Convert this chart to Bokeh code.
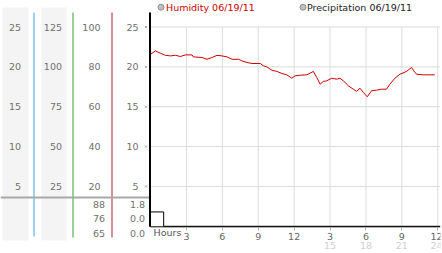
from bokeh.plotting import figure
from bokeh.models import Range1d, LinearAxis, FixedTicker
from bokeh.core.properties import value
from bokeh.embed import file_html
from bokeh.resources import INLINE

# ---------------- data ----------------
hum_hours = [0.0, 0.42, 0.83, 1.25, 1.67, 2.08, 2.5, 2.92, 3.47, 3.58, 4.31, 4.72, 5.14, 5.56,
             5.97, 6.39, 6.81, 7.36, 7.64, 8.06, 8.47, 9.17, 9.44, 9.72, 10.14, 10.56, 10.97,
             11.39, 11.81, 12.08, 12.5, 13.06, 13.61, 13.89, 14.17, 14.44, 14.72, 15.14, 15.56,
             15.83, 16.11, 16.53, 16.94, 17.22, 17.5, 17.78, 18.11, 18.47, 18.89, 19.31, 19.72,
             20.0, 20.42, 20.83, 21.39, 21.81, 22.0, 22.22, 22.78, 23.33, 23.75]
hum_vals = [86.3, 88, 86.8, 85.8, 85.5, 85.8, 85.2, 86, 86, 85, 84.7, 83.8, 84.7, 85.8, 85.5,
            85, 83.8, 83.8, 83, 82.2, 81.7, 81.7, 80.5, 80, 78.3, 77.7, 76.7, 76, 74.3, 75.5,
            75.8, 76, 77.7, 74.7, 71.3, 72.7, 73, 74.3, 73.8, 74.3, 73, 70.5, 68.8, 67.7, 69.3,
            67.2, 65, 68, 68.3, 68.8, 68.8, 71.3, 74.3, 76.3, 77.7, 79.7, 78, 76.3, 76, 76, 76]
precip_hours = [0.0, 1.1, 24.2]
precip_vals = [1.8, 0.0, 0.0]

hour_ticks = [3, 6, 9, 12, 15, 18, 21, 24]
hour_labels = ["3", "6", "9", "12", "3", "6", "9", "12"]
pm_ticks = [15, 18, 21, 24]
pm_labels = ["15", "18", "21", "24"]
col1_ticks = [25, 20, 15, 10, 5]
col2_ticks = [125, 100, 75, 50, 25]
hum_ticks = [100, 80, 60, 40, 20]
precip_ticks = [25, 20, 15, 10, 5]
hum_stats = ["88", "76", "65"]
precip_stats = ["1.8", "0.0", "0.0"]
legend_labels = ["Humidity 06/19/11", "Precipitation 06/19/11"]
legend_colors = ["#cc0000", "#222222"]

# ---------------- layout ----------------
FONT = "DejaVu Sans"
FS = "9.5px"
W, H = 442, 253
FRAME_W, FRAME_H = 440, 253
X0_PX, PX_PER_H = 150.0, 11.97
Y0_PX, PX_PER_U = 225.8, 7.972


def hx(px):
    return (px - X0_PX) / PX_PER_H


def vy(py):
    return (Y0_PX - py) / PX_PER_U


p = figure(width=W, height=H,
           x_range=Range1d(hx(0), hx(FRAME_W)), y_range=Range1d(vy(FRAME_H), vy(0)),
           output_backend="svg", toolbar_location=None, y_axis_location=None,
           x_axis_location=None,
           min_border_left=0, min_border_right=W - FRAME_W, min_border_top=0,
           min_border_bottom=0, outline_line_color=None)
p.grid.visible = False
p.extra_y_ranges = {"hum": Range1d(vy(FRAME_H) * 4, vy(0) * 4),
                    "c2": Range1d(vy(FRAME_H) * 5, vy(0) * 5)}

# left column bands and coloured column lines
p.quad(left=[hx(2), hx(41)], right=[hx(28), hx(66)], bottom=[vy(240)] * 2, top=[vy(7)] * 2,
       fill_color="#f4f4f4", line_color=None)
col_px = [33.5, 72.5, 111.5]
col_colors = ["#3fa6d6", "#33a033", "#b02030"]
p.segment(x0=[hx(v) for v in col_px], y0=[vy(236), vy(237), vy(237)],
          x1=[hx(v) for v in col_px], y1=[vy(12)] * 3, line_color=col_colors, line_width=1)

# grid
p.segment(x0=hour_ticks, y0=[0] * len(hour_ticks), x1=hour_ticks, y1=[25] * len(hour_ticks),
          line_color="#dcdcdc", line_width=1)
p.segment(x0=[0] * 5, y0=precip_ticks, x1=[hx(FRAME_W)] * 5, y1=precip_ticks,
          line_color="#dcdcdc", line_width=1)

# separator line of the lower panel
p.segment(x0=[hx(0)], y0=[vy(197)], x1=[hx(150)], y1=[vy(197)], line_color="#a8a8a8", line_width=2)

# column tick labels
tstyle = dict(text_align="right", text_baseline="middle", text_font=value(FONT),
              text_font_size=FS, text_color="#707070")
p.text(x=[hx(20.5)] * 5, y=col1_ticks, text=[str(v) for v in col1_ticks], **tstyle)
p.text(x=[hx(61.5)] * 5, y=col2_ticks, text=[str(v) for v in col2_ticks], y_range_name="c2", **tstyle)
p.text(x=[hx(100)] * 5, y=hum_ticks, text=[str(v) for v in hum_ticks], y_range_name="hum", **tstyle)
p.text(x=[hx(138)] * 5, y=precip_ticks, text=[str(v) for v in precip_ticks], **tstyle)
p.scatter(x=[hx(145.5)] * 5, y=precip_ticks, marker="x", size=3, line_color="#aaaaaa")

# summary values of the lower panel
stat_y = [vy(204 + 14.3 * i) for i in range(len(hum_stats))]
p.text(x=[hx(104.5)] * 3, y=stat_y, text=hum_stats, **tstyle)
p.text(x=[hx(144.5)] * 3, y=stat_y, text=precip_stats, **tstyle)

# data
p.line(hum_hours, hum_vals, y_range_name="hum", line_color="#cc0000", line_width=1)
p.step(precip_hours, precip_vals, mode="after", line_color="black", line_width=1)

# main plot axis lines
p.segment(x0=[hx(149.5)], y0=[vy(226.3)], x1=[hx(149.5)], y1=[vy(12)], line_color="black", line_width=2)
p.segment(x0=[0], y0=[vy(226.3)], x1=[hx(FRAME_W)], y1=[vy(226.3)], line_color="black", line_width=1)

# x axes (fixed inside the frame, under the plot)
ax = LinearAxis(fixed_location=vy(226.8), ticker=FixedTicker(ticks=hour_ticks),
                major_label_overrides=dict(zip(hour_ticks, hour_labels)),
                axis_line_color=None, major_tick_in=0, major_tick_out=3,
                major_tick_line_color="#b0b0b0", minor_tick_line_color=None,
                major_label_standoff=3, major_label_text_font=FONT,
                major_label_text_font_size=FS, major_label_text_color="#666666")
p.add_layout(ax, "below")
ax2 = LinearAxis(fixed_location=vy(241.5), ticker=FixedTicker(ticks=pm_ticks),
                 major_label_overrides=dict(zip(pm_ticks, pm_labels)),
                 axis_line_color=None, major_tick_line_color=None, minor_tick_line_color=None,
                 major_tick_in=0, major_tick_out=0, major_label_standoff=0,
                 major_label_text_font=FONT, major_label_text_font_size=FS,
                 major_label_text_color="#cfcfcf")
p.add_layout(ax2, "below")

p.text(x=[hx(153)], y=[vy(232.3)], text=["Hours"], text_align="left", text_baseline="middle",
       text_font=value(FONT), text_font_size=FS, text_color="#555555")

# legend
p.scatter(x=[hx(160.5), hx(302.5)], y=[vy(6.7)] * 2, size=6, fill_color="#c0c0c0",
          line_color="#909090", line_width=1)
p.text(x=[hx(165.5), hx(306.5)], y=[vy(7)] * 2, text=legend_labels, text_color=legend_colors,
       text_align="left", text_baseline="middle", text_font=value(FONT), text_font_size=FS)

open("out.html", "w").write(file_html(p, INLINE))
